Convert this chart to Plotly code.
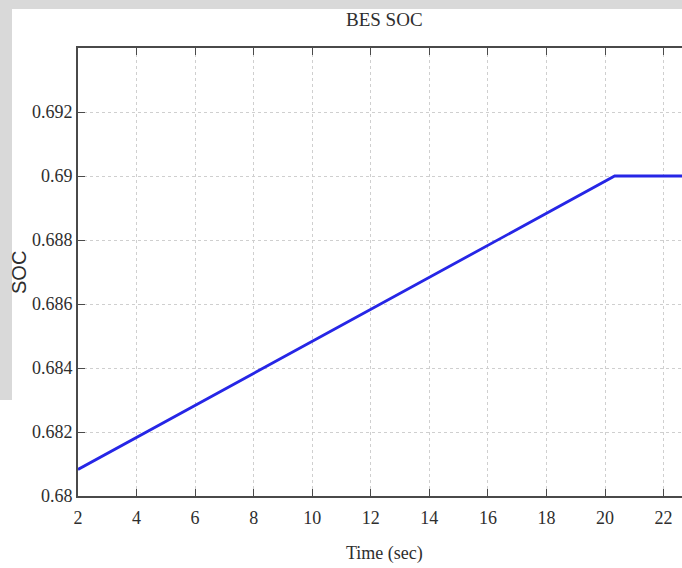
import plotly.graph_objects as go

# Data
time_sec = [2.0, 20.33, 22.65]
soc = [0.68083, 0.690, 0.690]

x_tick_vals = [2, 4, 6, 8, 10, 12, 14, 16, 18, 20, 22]
x_tick_text = ["2", "4", "6", "8", "10", "12", "14", "16", "18", "20", "22"]
y_tick_vals = [0.680, 0.682, 0.684, 0.686, 0.688, 0.690, 0.692]
y_tick_text = ["0.68", "0.682", "0.684", "0.686", "0.688", "0.69", "0.692"]

W, H = 682, 568
L, R, T, B = 78, 0, 48, 72
PW, PH = W - L - R, H - T - B


def px_x(px):
    return (px - L) / PW


def px_y(py):
    return (H - B - py) / PH


serif = "Liberation Serif"
txt_col = "#2e2e2e"

fig = go.Figure()
fig.add_trace(go.Scatter(
    x=time_sec, y=soc, mode="lines",
    line=dict(color="#2626e6", width=2.8),
    showlegend=False,
))

axis_common = dict(
    showline=True, linecolor="#4a4a4a", linewidth=1.6,
    ticks="inside", ticklen=7, tickcolor="#4a4a4a", tickwidth=1.2,
    showgrid=True, gridcolor="#cfcfcf", gridwidth=1, griddash="dot",
    zeroline=False,
    tickfont=dict(family=serif, size=18, color=txt_col),
)

fig.update_xaxes(
    range=[2, 22.63], tickmode="array",
    tickvals=x_tick_vals, ticktext=x_tick_text,
    ticklabelstandoff=5, mirror="ticks",
    **axis_common,
)
fig.update_yaxes(
    range=[0.680, 0.694], tickmode="array",
    tickvals=y_tick_vals, ticktext=y_tick_text,
    mirror=False,
    **axis_common,
)

shapes = [
    # grey page strips at the top and left edges
    dict(type="rect", xref="paper", yref="paper",
         x0=px_x(0), x1=px_x(W), y0=px_y(9), y1=px_y(0),
         fillcolor="#d9d9d9", line=dict(width=0), layer="below"),
    dict(type="rect", xref="paper", yref="paper",
         x0=px_x(0), x1=px_x(12), y0=px_y(400), y1=px_y(0),
         fillcolor="#d9d9d9", line=dict(width=0), layer="below"),
]

annotations = [
    dict(text="BES SOC", xref="paper", yref="paper",
         x=px_x(384), y=px_y(19), xanchor="center", yanchor="middle",
         showarrow=False, font=dict(family=serif, size=19, color=txt_col)),
    dict(text="Time (sec)", xref="paper", yref="paper",
         x=px_x(384), y=px_y(553), xanchor="center", yanchor="middle",
         showarrow=False, font=dict(family=serif, size=18, color=txt_col)),
    dict(text="SOC", xref="paper", yref="paper",
         x=px_x(19), y=px_y(273), xanchor="center", yanchor="middle",
         textangle=-90, showarrow=False,
         font=dict(family="Liberation Sans", size=20, color=txt_col)),
]

fig.update_layout(
    width=W, height=H,
    margin=dict(l=L, r=R, t=T, b=B),
    paper_bgcolor="white", plot_bgcolor="white",
    shapes=shapes, annotations=annotations,
)

fig.write_html("out.html")
